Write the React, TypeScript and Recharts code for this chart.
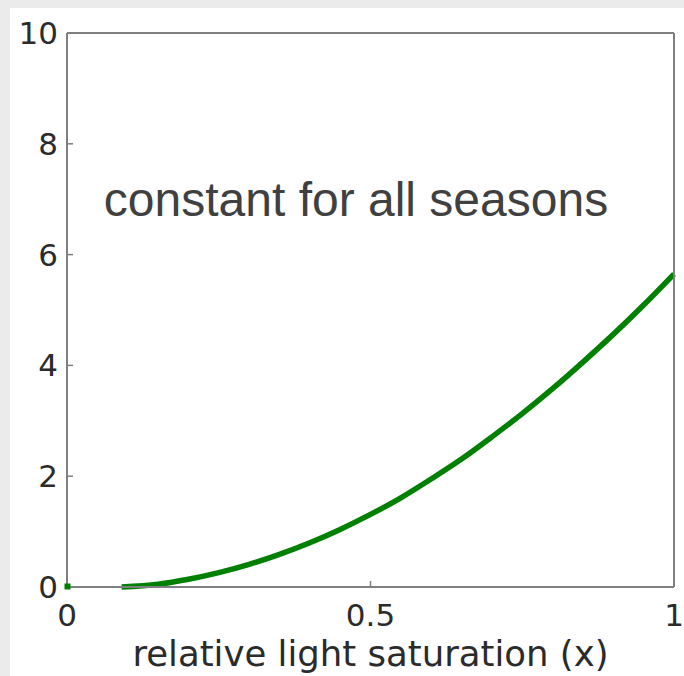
import React from 'react';
import { ComposedChart, Line, Scatter, XAxis, YAxis, Customized } from 'recharts';

// Relative light saturation (x) and the resulting curve value
const saturation = [0.09, 0.15, 0.2, 0.25, 0.3, 0.35, 0.4, 0.45, 0.5, 0.55, 0.6, 0.65, 0.7, 0.75, 0.8, 0.85, 0.9, 0.95, 1.0];
const response = [0, 0.05, 0.14, 0.26, 0.41, 0.59, 0.8, 1.04, 1.31, 1.61, 1.95, 2.31, 2.71, 3.13, 3.58, 4.06, 4.56, 5.09, 5.65];

// Single marker at the origin
const originX = [0];
const originY = [0];

const xTicks = [0, 0.5, 1];
const yTicks = [0, 2, 4, 6, 8, 10];
const xTickLabels = ['0', '0.5', '1'];

const curve = saturation.map((x, i) => ({ x, y: response[i] }));
const origin = originX.map((x, i) => ({ x, y: originY[i] }));

const GREEN = '#008000';
const AXIS = '#7f7f7f';
const TEXT = '#2b2b2b';
const TICK_FONT = { fontFamily: 'DejaVu Sans', fontSize: 31, fill: TEXT };

const SquareMarker = (props: any) => {
  const { cx, cy } = props;
  if (cx == null || cy == null) return <g />;
  return <rect x={cx - 2.5} y={cy - 3.5} width={6} height={6} fill={GREEN} />;
};

const Annotation = () => (
  <text
    x={356}
    y={216}
    textAnchor="middle"
    fontFamily="Liberation Sans, Arial, sans-serif"
    fontSize={48}
    fill="#404040"
  >
    constant for all seasons
  </text>
);

const XLabel = (props: any) => {
  const vb = props.viewBox || {};
  return (
    <text
      x={vb.x + vb.width / 2}
      y={vb.y + 79}
      textAnchor="middle"
      fontFamily="DejaVu Sans"
      fontSize={35.5}
      fill={TEXT}
    >
      relative light saturation (x)
    </text>
  );
};

const NoTick = () => <g />;

export default function App() {
  return (
    <div style={{ position: 'absolute', left: 0, top: 0, width: 684, height: 676, background: '#ebebeb' }}>
      <div style={{ position: 'absolute', left: 10, top: 8, right: 0, bottom: 0, background: '#ffffff' }} />
      <div style={{ position: 'absolute', left: 0, top: 0 }}>
        <ComposedChart width={684} height={676} margin={{ top: 23, right: 0, bottom: 0, left: 10 }}>
          <XAxis
            xAxisId="bottom"
            dataKey="x"
            type="number"
            domain={[0, 1]}
            ticks={xTicks}
            tickFormatter={(v: number) => xTickLabels[xTicks.indexOf(v)] ?? String(v)}
            height={89}
            tickSize={-6}
            tickMargin={23}
            tick={TICK_FONT}
            axisLine={{ stroke: AXIS, strokeWidth: 2 }}
            tickLine={{ stroke: AXIS, strokeWidth: 1.5 }}
            label={<XLabel />}
          />
          <XAxis
            xAxisId="top"
            orientation="top"
            dataKey="x"
            type="number"
            domain={[0, 1]}
            ticks={xTicks}
            height={10}
            tickSize={-6}
            tick={NoTick}
            axisLine={{ stroke: AXIS, strokeWidth: 2 }}
            tickLine={{ stroke: AXIS, strokeWidth: 1.5 }}
          />
          <YAxis
            yAxisId="left"
            type="number"
            domain={[0, 10]}
            ticks={yTicks}
            width={57}
            tickSize={-6}
            tickMargin={15}
            tick={TICK_FONT}
            axisLine={{ stroke: AXIS, strokeWidth: 2 }}
            tickLine={{ stroke: AXIS, strokeWidth: 1.5 }}
          />
          <YAxis
            yAxisId="right"
            orientation="right"
            type="number"
            domain={[0, 10]}
            ticks={yTicks}
            width={10}
            tickSize={-6}
            tick={NoTick}
            axisLine={{ stroke: AXIS, strokeWidth: 2 }}
            tickLine={{ stroke: AXIS, strokeWidth: 1.5 }}
          />
          <Line
            xAxisId="bottom"
            yAxisId="left"
            data={curve}
            dataKey="y"
            type="monotone"
            stroke={GREEN}
            strokeWidth={5.5}
            dot={false}
            activeDot={false}
            isAnimationActive={false}
          />
          <Scatter
            xAxisId="bottom"
            yAxisId="left"
            data={origin}
            dataKey="y"
            fill={GREEN}
            shape={(p: any) => <SquareMarker {...p} />}
            isAnimationActive={false}
          />
          <Customized component={<Annotation />} />
        </ComposedChart>
      </div>
    </div>
  );
}
